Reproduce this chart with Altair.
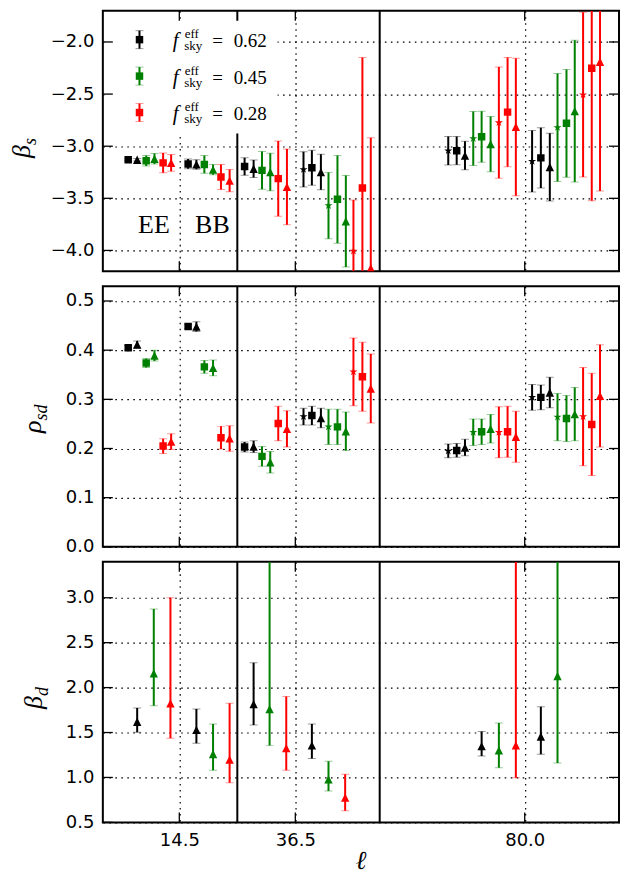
import altair as alt
import pandas as pd

# ---------------- data ----------------
FSKY = ["0.62", "0.45", "0.28"]
COLORS = ["#000000", "#008000", "#ff0000"]
K, G, R = FSKY

# points shared by the beta_s and rho_sd panels (ell position, series, marker)
ELL = [4.81, 6.51, 8.22, 9.79, 11.43, 12.95,
       16.17, 17.74, 19.25, 20.90, 22.40, 24.04,
       26.88, 28.59, 30.18, 31.75, 33.26, 34.91,
       38.05, 39.64, 41.35, 42.79, 44.49, 46.08, 47.52, 49.22, 50.81,
       65.50, 67.10, 68.67, 70.24, 71.83, 73.53, 75.10, 76.75, 78.32,
       81.40, 83.06, 84.76, 86.22, 87.92, 89.49, 91.07, 92.71, 94.28]
SERIES = [K, K, G, G, R, R,
          K, K, G, G, R, R,
          K, K, G, G, R, R,
          K, K, K, G, G, G, R, R, R,
          K, K, K, G, G, G, R, R, R,
          K, K, K, G, G, G, R, R, R]
SHAPE = ["square", "triangle"] * 9 + ["star", "square", "triangle"] * 9

BETA_S = [-3.13, -3.13, -3.14, -3.12, -3.16, -3.16,
          -3.17, -3.175, -3.175, -3.225, -3.295, -3.33,
          -3.194, -3.216, -3.232, -3.248, -3.311, -3.39,
          -3.223, -3.207, -3.248, -3.57, -3.51, -3.72, -4.006, -3.40, -4.17,
          -3.043, -3.043, -3.09, -2.926, -2.91, -2.98, -2.774, -2.673, -2.815,
          -3.144, -3.112, -3.20, -2.82, -2.78, -2.664, -2.506, -2.253, -2.19]
BETA_S_ERR = [0.012, 0.012, 0.05, 0.05, 0.095, 0.08,
              0.047, 0.045, 0.085, 0.05, 0.12, 0.107,
              0.084, 0.084, 0.18, 0.18, 0.36, 0.363,
              0.169, 0.167, 0.17, 0.318, 0.42, 0.44, 0.49, 1.25, 1.25,
              0.137, 0.135, 0.137, 0.26, 0.245, 0.264, 0.534, 0.525, 0.66,
              0.295, 0.29, 0.325, 0.518, 0.517, 0.68, 0.79, 1.27, 1.24]

RHO_SD = [0.405, 0.4115, 0.374, 0.389, 0.205, 0.214,
          0.448, 0.448, 0.366, 0.364, 0.222, 0.2205,
          0.203, 0.204, 0.184, 0.172, 0.251, 0.240,
          0.265, 0.267, 0.262, 0.244, 0.244, 0.235, 0.356, 0.346, 0.322,
          0.195, 0.196, 0.202, 0.233, 0.234, 0.240, 0.233, 0.234, 0.224,
          0.304, 0.304, 0.314, 0.264, 0.261, 0.270, 0.265, 0.249, 0.307]
RHO_SD_ERR = [0.004, 0.007, 0.009, 0.011, 0.015, 0.016,
              0.004, 0.010, 0.013, 0.016, 0.023, 0.026,
              0.010, 0.012, 0.020, 0.022, 0.035, 0.037,
              0.017, 0.019, 0.020, 0.036, 0.036, 0.039, 0.069, 0.070, 0.070,
              0.014, 0.014, 0.017, 0.027, 0.026, 0.029, 0.052, 0.052, 0.052,
              0.026, 0.025, 0.031, 0.048, 0.047, 0.054, 0.100, 0.104, 0.104]

# beta_d panel (triangles only)
ELL_D = [6.51, 9.66, 12.82, 17.74, 20.90, 24.04, 28.59, 31.62, 34.78,
         39.64, 42.79, 45.95, 71.83, 75.10, 78.32, 83.06, 86.22]
SERIES_D = [K, G, R, K, G, R, K, G, R, K, G, R, K, G, R, K, G]
BETA_D = [1.62, 2.158, 1.824, 1.529, 1.261, 1.199, 1.816, 1.761, 1.327,
          1.357, 0.978, 0.776, 1.349, 1.301, 1.357, 1.456, 2.129]
BETA_D_LO = [1.504, 1.798, 1.4375, 1.382, 1.081, 0.941, 1.585, 1.357, 1.081,
             1.21, 0.849, 0.629, 1.239, 1.107, 0.996, 1.257, 1.162]
BETA_D_HI = [1.772, 2.875, 3.0, 1.761, 1.596, 1.827, 2.276, 3.9, 1.90,
             1.596, 1.18, 1.037, 1.511, 1.607, 3.9, 1.787, 3.9]

X_TICKS = [14.5, 36.5, 80.0]
BIN_EDGES = [25.5, 52.5]
BS_TICKS = [-4.0, -3.5, -3.0, -2.5, -2.0]
RHO_TICKS = [0.0, 0.1, 0.2, 0.3, 0.4, 0.5]
BD_TICKS = [0.5, 1.0, 1.5, 2.0, 2.5, 3.0]
FIELD_LABELS = ["EE", "BB"]
FIELD_X = [9.69, 20.77]
FIELD_Y = [-3.83, -3.83]

# ---------------- style ----------------
W, H = 517, 261
X_DOMAIN = [0, 97.88]
SERIF = "Liberation Serif"
SANS = "DejaVu Sans"
TRI = "M0,-1L1,1L-1,1Z"
STAR = ("M0,-1L0.2245,-0.309L0.9511,-0.309L0.3633,0.118L0.5878,0.809L0,0.382"
        "L-0.5878,0.809L-0.3633,0.118L-0.9511,-0.309L-0.2245,-0.309Z")


def guide(y_px, x1=-94, x2=-93.5):
    """invisible short rule used to fix the panel's outer bounds"""
    return alt.Chart(pd.DataFrame({"a": [0]})).mark_rule(opacity=0, strokeWidth=0.1).encode(
        x=alt.value(x1), x2=alt.value(x2), y=alt.value(y_px))


def panel(df, ydom, yticks, tmain, tsub, tx, bottom, extra=()):
    xs = alt.Scale(domain=X_DOMAIN, nice=False, zero=False)
    ys = alt.Scale(domain=ydom, nice=False, zero=False, clamp=True)
    xaxis = alt.Axis(values=X_TICKS, format=".1f", labels=bottom, title=None)
    yaxis = alt.Axis(values=yticks, format=".1f", title=None)

    def X(f):
        return alt.X(f, scale=xs, axis=xaxis)

    def Y(f):
        return alt.Y(f, scale=ys, axis=yaxis)

    color = alt.Color("series:N", scale=alt.Scale(domain=FSKY, range=COLORS), legend=None)
    base = alt.Chart(df)
    edges = alt.Chart(pd.DataFrame({"edge": BIN_EDGES})).mark_rule(
        color="black", strokeWidth=2).encode(x=X("edge:Q"))
    bars = base.mark_rule(strokeWidth=2, clip=True).encode(
        x=X("ell:Q"), y=Y("lo:Q"), y2="hi:Q", color=color)
    caps = base.transform_fold(["lo", "hi"], as_=["end", "yv"]).transform_filter(
        f"datum.yv >= {ydom[0]} && datum.yv <= {ydom[1]}").mark_tick(
        orient="horizontal", size=8, thickness=1, opacity=0.4, clip=True).encode(
        x=X("ell:Q"), y=Y("yv:Q"), color=color)
    pts = base.transform_calculate(
        msize="datum.shape == 'square' ? 56 : (datum.shape == 'triangle' ? 70 : 72)"
    ).mark_point(filled=True, opacity=1, clip=True, strokeWidth=0).encode(
        x=X("ell:Q"), y=Y("val:Q"), color=color,
        shape=alt.Shape("shape:N", scale=alt.Scale(domain=["square", "triangle", "star"],
                                                   range=["square", TRI, STAR]), legend=None),
        size=alt.Size("msize:Q", scale=None))

    layers = [edges, bars, caps, pts] + list(extra)

    tick_style = dict(color="black", strokeWidth=1.3)
    xt = alt.Chart(pd.DataFrame({"t": X_TICKS}))
    yt = alt.Chart(pd.DataFrame({"t": yticks}))
    layers += [
        xt.mark_rule(**tick_style).encode(x=X("t:Q"), y=alt.value(0), y2=alt.value(10)),
        xt.mark_rule(**tick_style).encode(x=X("t:Q"), y=alt.value(H - 10), y2=alt.value(H)),
        yt.mark_rule(**tick_style).encode(y=Y("t:Q"), x=alt.value(0), x2=alt.value(10)),
        yt.mark_rule(**tick_style).encode(y=Y("t:Q"), x=alt.value(W - 10), x2=alt.value(W)),
    ]

    ty = H / 2 + 4
    layers += [
        alt.Chart(pd.DataFrame({"t": [tmain]})).mark_text(
            font=SERIF, fontStyle="italic", fontSize=26, angle=270, align="right",
            baseline="alphabetic", color="black").encode(
            x=alt.value(tx), y=alt.value(ty), text="t:N"),
        alt.Chart(pd.DataFrame({"t": [tsub]})).mark_text(
            font=SERIF, fontStyle="italic", fontSize=18, angle=270, align="left",
            baseline="alphabetic", color="black").encode(
            x=alt.value(tx + 6), y=alt.value(ty), text="t:N"),
        guide(H / 2),
    ]
    if bottom:
        layers.append(alt.Chart(pd.DataFrame({"t": ["ℓ"]})).mark_text(
            font=SERIF, fontStyle="italic", fontSize=26, align="center",
            baseline="alphabetic", color="black").encode(
            x=alt.value(W / 2), y=alt.value(H + 47), text="t:N"))
    else:
        # equalise the outer bottom bound of the upper panels
        layers.append(guide(H + 9, 0, 1))
    return alt.layer(*layers).properties(width=W, height=H)


df_s = pd.DataFrame({"ell": ELL, "series": SERIES, "shape": SHAPE, "val": BETA_S})
df_s["lo"] = df_s["val"] - pd.Series(BETA_S_ERR)
df_s["hi"] = df_s["val"] + pd.Series(BETA_S_ERR)

df_r = pd.DataFrame({"ell": ELL, "series": SERIES, "shape": SHAPE, "val": RHO_SD})
df_r["lo"] = df_r["val"] - pd.Series(RHO_SD_ERR)
df_r["hi"] = df_r["val"] + pd.Series(RHO_SD_ERR)

df_d = pd.DataFrame({"ell": ELL_D, "series": SERIES_D, "shape": "triangle",
                     "val": BETA_D, "lo": BETA_D_LO, "hi": BETA_D_HI})

# ---- legend + EE/BB labels for the top panel ----
extra = []
extra.append(alt.Chart(pd.DataFrame({"a": [0]})).mark_rect(fill="white", strokeWidth=0).encode(
    x=alt.value(1.5), x2=alt.value(175), y=alt.value(10), y2=alt.value(123)))
LEG_Y0, LEG_DY, LEG_X = 29, 36.5, 36.7
for i, (lab, col) in enumerate(zip(FSKY, COLORS)):
    ly = LEG_Y0 + LEG_DY * i
    one = alt.Chart(pd.DataFrame({"t": [lab]}))
    extra += [
        one.mark_rule(color=col, strokeWidth=2).encode(
            x=alt.value(LEG_X), y=alt.value(ly - 9), y2=alt.value(ly + 9)),
        one.mark_rule(color=col, strokeWidth=1, opacity=0.4).encode(
            x=alt.value(LEG_X - 4), x2=alt.value(LEG_X + 4), y=alt.value(ly - 9)),
        one.mark_rule(color=col, strokeWidth=1, opacity=0.4).encode(
            x=alt.value(LEG_X - 4), x2=alt.value(LEG_X + 4), y=alt.value(ly + 9)),
        one.mark_point(shape="square", filled=True, opacity=1, size=56, color=col, strokeWidth=0).encode(
            x=alt.value(LEG_X), y=alt.value(ly)),
        one.mark_text(text="f", font=SERIF, fontStyle="italic", fontSize=21, align="left",
                      baseline="alphabetic", color="black").encode(
            x=alt.value(70), y=alt.value(ly + 7.7)),
        one.mark_text(text="eff", font=SERIF, fontSize=13, align="left",
                      baseline="alphabetic", color="black").encode(
            x=alt.value(82), y=alt.value(ly - 1.3)),
        one.mark_text(text="sky", font=SERIF, fontSize=13, align="left",
                      baseline="alphabetic", color="black").encode(
            x=alt.value(81.5), y=alt.value(ly + 10.7)),
        one.mark_text(text="=", font=SERIF, fontSize=19, align="left",
                      baseline="alphabetic", color="black").encode(
            x=alt.value(109.5), y=alt.value(ly + 7.7)),
        one.mark_text(font=SERIF, fontSize=19, align="left",
                      baseline="alphabetic", color="black").encode(
            x=alt.value(131), y=alt.value(ly + 7.7), text="t:N"),
    ]

fields = pd.DataFrame({"lab": FIELD_LABELS, "x": FIELD_X, "y": FIELD_Y})
extra.append(alt.Chart(fields).mark_text(
    font=SERIF, fontSize=26, align="center", baseline="alphabetic", color="black").encode(
    x=alt.X("x:Q", scale=alt.Scale(domain=X_DOMAIN, nice=False, zero=False),
            axis=alt.Axis(values=X_TICKS, format=".1f", labels=False, title=None)),
    y=alt.Y("y:Q", scale=alt.Scale(domain=[-4.2, -1.7], nice=False, zero=False, clamp=True),
            axis=alt.Axis(values=BS_TICKS, format=".1f", title=None)),
    text="lab:N"))

p1 = panel(df_s, [-4.2, -1.7], BS_TICKS, "β", "s", -73, False, extra)
p2 = panel(df_r, [0.0, 0.53], RHO_TICKS, "ρ", "sd", -62, False)
p3 = panel(df_d, [0.5, 3.4], BD_TICKS, "β", "d", -61, True)

chart = alt.vconcat(p1, p2, p3, spacing=3).properties(
    padding={"left": 0, "top": 0, "right": 0, "bottom": 0}
).configure_view(
    stroke="black", strokeWidth=2
).configure_axis(
    labelFont=SANS, labelFontSize=18, labelColor="black", labelPadding=9,
    grid=True, gridColor="black", gridDash=[1.6, 4.4], gridWidth=1.2, gridOpacity=1,
    ticks=False, domain=False, labelFlush=False
)

chart.save("out.html", embed_options={"renderer": "svg", "actions": False})
